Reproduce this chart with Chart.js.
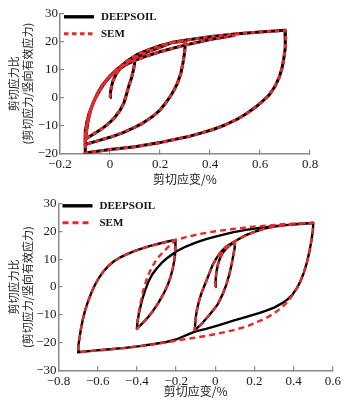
<!DOCTYPE html>
<html lang="zh">
<head>
<meta charset="UTF-8">
<title>剪切应力比-剪切应变滞回曲线</title>
<script src="https://cdn.jsdelivr.net/npm/chart.js@4"></script>
<style>
  body { margin: 0; background: #fff; }
  .wrap { position: relative; width: 348px; height: 405px; }
  .box { position: absolute; left: 0; width: 348px; }
  #top-box { top: 0; height: 190px; }
  #bottom-box { top: 190px; height: 215px; }
</style>
</head>
<body>
<div class="wrap">
  <div class="box" id="top-box"><canvas id="top-chart" width="348" height="190"></canvas></div>
  <div class="box" id="bottom-box"><canvas id="bottom-chart" width="348" height="215"></canvas></div>
</div>
<script>
// ---- 上图：DEEPSOIL 与 SEM 基本重合 (应变 %, 应力比) ----
const topLoad0 = [[0,0],[0.002,2],[0.006,4],[0.012,6],[0.022,8],[0.035,9.8],[0.05,11.3],[0.07,12.6],[0.1,14]];
const topUnload1 = [[0.1,14],[0.098,12],[0.094,10],[0.086,7],[0.076,4.4],[0.066,1.2],[0.056,-1.8],[0.04,-4.6],[0.02,-7],[0,-8.8],[-0.02,-10.3],[-0.04,-11.6],[-0.06,-12.7],[-0.08,-13.8],[-0.1,-15]];
const topReload1 = [[-0.1,-15],[-0.098,-12],[-0.092,-8.5],[-0.083,-5.5],[-0.07,-2.5],[-0.057,0],[-0.04,2.7],[-0.02,5.5],[0,7.8],[0.03,10.3],[0.07,13.2],[0.11,15.5],[0.15,17],[0.2,18.6],[0.25,19.7],[0.3,20.3]];
const topUnload2 = [[0.3,20.3],[0.301,18.5],[0.298,16],[0.292,12.5],[0.283,8.5],[0.27,5.2],[0.255,2.5],[0.24,0.3],[0.22,-2.2],[0.2,-4.5],[0.17,-6.8],[0.13,-9.2],[0.09,-11],[0.05,-12.6],[0,-14.2],[-0.05,-15.5],[-0.1,-16.8]];
const topReload2 = [[-0.1,-16.8],[-0.098,-13.5],[-0.093,-10],[-0.085,-6.8],[-0.074,-3.5],[-0.06,-0.5],[-0.043,2.4],[-0.022,5.2],[0,7.5],[0.03,10],[0.07,12.8],[0.11,14.8],[0.15,16.4],[0.2,18],[0.25,19.8],[0.3,20.5],[0.4,21.8],[0.5,22.8],[0.6,23.5],[0.7,24.1]];
const topUnload3 = [[0.7,24.1],[0.703,21.5],[0.701,18],[0.696,14.4],[0.688,10.5],[0.677,7.3],[0.66,4],[0.637,1],[0.61,-1.3],[0.584,-3.3],[0.545,-5.8],[0.505,-7.9],[0.46,-9.8],[0.412,-11.4],[0.36,-12.8],[0.32,-13.8],[0.24,-15.3],[0.2,-16.1],[0.1,-17.6],[0,-18.6],[-0.05,-19.2],[-0.1,-19.8]];
const topReload3 = [[-0.1,-19.8],[-0.098,-16],[-0.094,-12],[-0.088,-8.5],[-0.079,-5],[-0.067,-1.8],[-0.052,1.2],[-0.033,4.2],[-0.01,6.8],[0.02,9.2],[0.06,11.6],[0.1,13.3],[0.15,15],[0.2,16.4],[0.24,17.4],[0.3,18.8],[0.4,20.8],[0.5,22.3]];

// ---- 下图 ----
const botLoad0 = [[0,0],[0.002,3],[0.006,5.5],[0.013,8],[0.022,10],[0.035,12],[0.055,13.8],[0.075,15.1],[0.1,16.3]];
const botUnload1 = [[0.1,16.3],[0.098,14],[0.092,11.5],[0.083,8],[0.071,4.4],[0.056,0.8],[0.037,-2.7],[0.012,-6.3],[-0.014,-8.6],[-0.04,-10.9],[-0.064,-12.8],[-0.085,-14.3],[-0.105,-15.6]];
const botReload1 = [[-0.105,-15.6],[-0.1,-11],[-0.093,-8],[-0.083,-5],[-0.067,-1.5],[-0.047,2],[-0.03,5],[-0.014,7.9],[0.007,10.5],[0.029,12.7],[0.06,14.8],[0.1,16.5],[0.156,18.7],[0.2,19.9],[0.257,21.2],[0.3,21.8],[0.36,22.3],[0.43,22.8],[0.5,23.1]];
const botUnloadDeep = [[0.5,23.1],[0.498,20.5],[0.491,17],[0.481,13],[0.468,9],[0.452,5.2],[0.435,2.2],[0.418,-0.2],[0.395,-2.6],[0.368,-4.5],[0.342,-5.8],[0.3,-7.4],[0.26,-8.5],[0.223,-9.4],[0.15,-10.9],[0.088,-12.2],[0.02,-13.7],[-0.047,-15.1],[-0.1,-16],[-0.132,-16.9],[-0.17,-18],[-0.2,-18.9],[-0.25,-19.8],[-0.32,-20.6],[-0.386,-21.3],[-0.46,-21.9],[-0.538,-22.4],[-0.62,-22.9],[-0.7,-23.5]];
const botUnloadSem = [[0.5,23.1],[0.498,20.5],[0.491,17],[0.481,13],[0.468,9],[0.452,5.2],[0.435,2.2],[0.418,-0.2],[0.395,-2.8],[0.37,-5.2],[0.342,-7.2],[0.3,-9.5],[0.256,-11.3],[0.2,-13],[0.156,-14.3],[0.088,-15.6],[0,-17],[-0.081,-18],[-0.183,-19.1],[-0.25,-19.9],[-0.33,-20.8],[-0.42,-21.6],[-0.5,-22.2],[-0.59,-22.8],[-0.7,-23.5]];
const botReload2 = [[-0.7,-23.5],[-0.697,-21],[-0.693,-18.5],[-0.686,-15.3],[-0.677,-12],[-0.665,-8.6],[-0.65,-5.3],[-0.633,-2.2],[-0.614,0.8],[-0.594,3.3],[-0.572,5.5],[-0.548,7.4],[-0.521,9.1],[-0.49,10.5],[-0.453,11.8],[-0.41,13],[-0.369,14],[-0.327,14.9],[-0.284,15.7],[-0.243,16.4],[-0.203,17]];
const botUnload2 = [[-0.203,17],[-0.203,15],[-0.205,12.7],[-0.209,9.6],[-0.217,6.7],[-0.228,3.7],[-0.242,0.9],[-0.258,-1.6],[-0.276,-3.9],[-0.296,-6.3],[-0.318,-8.6],[-0.342,-10.8],[-0.369,-12.8],[-0.4,-15.1]];
const botReloadDeep = [[-0.4,-15.1],[-0.397,-12.5],[-0.39,-9.6],[-0.381,-6.8],[-0.371,-4],[-0.357,-1],[-0.342,1.8],[-0.322,4.5],[-0.3,6.6],[-0.275,8.6],[-0.25,10.2],[-0.2,12.8],[-0.15,14.6],[-0.1,16],[-0.047,17.3],[0,18.2],[0.088,19.7],[0.156,20.6],[0.223,21.3],[0.3,21.9],[0.36,22.3],[0.43,22.7],[0.5,23.1]];
const botReloadSem = [[-0.4,-15.1],[-0.396,-12],[-0.389,-8.6],[-0.379,-5],[-0.369,-1.5],[-0.356,1.5],[-0.342,4.4],[-0.325,6.9],[-0.308,9],[-0.287,11],[-0.266,12.6],[-0.24,14.5],[-0.203,16.9],[-0.15,18],[-0.081,19.1],[0,20.1],[0.088,20.9],[0.17,21.6],[0.257,22.1],[0.36,22.7],[0.5,23.2]];

const seriesNames = ['DEEPSOIL', 'SEM'];
const xTitle = '剪切应变/%';
const yTitle = ['剪切应力比', '(剪切应力/竖向有效应力)'];

const RED = '#e8282b';
const AXIS = '#8a8a8a';
Chart.defaults.font.family = '"Liberation Serif", serif';
Chart.defaults.color = '#1a1a1a';

function toPoints() {
	const pts = [];
	for (const branch of arguments) {
		branch.forEach(p => pts.push({ x: p[0], y: p[1] }));
	}
	return pts;
}

function fmtTick(v) {
	return String(Math.round(v * 10) / 10).replace('-', '\u2212');
}

// 图例画在坐标区左上角内侧
const lineLegend = {
	id: 'lineLegend',
	afterDraw(chart) {
		const { ctx, chartArea } = chart;
		const opts = chart.options.plugins.lineLegend;
		chart.data.datasets.forEach((ds, i) => {
			const y = chartArea.top + opts.top + i * opts.gap;
			const x0 = chartArea.left + opts.left;
			ctx.save();
			ctx.strokeStyle = ds.borderColor;
			ctx.lineWidth = ds.legendWidth;
			ctx.setLineDash(ds.borderDash || []);
			ctx.beginPath();
			ctx.moveTo(x0, y);
			ctx.lineTo(x0 + opts.len, y);
			ctx.stroke();
			ctx.setLineDash([]);
			ctx.fillStyle = '#111';
			ctx.font = 'bold 11px "Liberation Serif", serif';
			ctx.textBaseline = 'middle';
			ctx.fillText(ds.label, x0 + opts.len + 7, y + 0.5);
			ctx.restore();
		});
	}
};

function makeScales(xr, yr, yWidth, xHeight, xTitlePad) {
	const grid = { drawOnChartArea: false, tickLength: -4, color: AXIS, lineWidth: 1.2 };
	const border = { color: AXIS, width: 1.5 };
	return {
		x: {
			type: 'linear', min: xr[0], max: xr[1],
			afterFit: s => { s.height = xHeight; },
			ticks: { stepSize: 0.2, callback: fmtTick, autoSkip: false, maxRotation: 0, padding: 7, font: { size: 13 } },
			grid: grid, border: border,
			title: { display: true, text: xTitle, font: { family: '"Noto Sans CJK SC"', size: 12 }, padding: { top: 0, bottom: xTitlePad } }
		},
		y: {
			type: 'linear', min: yr[0], max: yr[1],
			afterFit: s => { s.width = yWidth; },
			ticks: { stepSize: 10, callback: fmtTick, padding: 6, font: { size: 13 } },
			grid: grid, border: border,
			title: { display: true, text: yTitle, font: { family: '"Noto Sans CJK SC"', size: 11, lineHeight: 1.35 }, padding: { top: 6, bottom: 0 } }
		}
	};
}

function makeChart(id, deep, sem, opt) {
	const line = { showLine: true, borderWidth: opt.lw, borderJoinStyle: 'round', pointRadius: 0 };
	return new Chart(document.getElementById(id), {
		type: 'scatter',
		data: {
			datasets: [
				Object.assign({ label: seriesNames[0], data: deep, borderColor: '#000', order: 1, legendWidth: 3.4 }, line),
				Object.assign({ label: seriesNames[1], data: sem, borderColor: RED, borderDash: opt.dash, order: 0, legendWidth: 3 }, line)
			]
		},
		options: {
			responsive: false,
			animation: false,
			layout: { padding: opt.padding },
			plugins: {
				legend: { display: false },
				tooltip: { enabled: false },
				lineLegend: { top: opt.legendTop, gap: 17, left: 4, len: 30 }
			},
			scales: makeScales(opt.xr, opt.yr, opt.yWidth, opt.xHeight, opt.xTitlePad)
		},
		plugins: [lineLegend]
	});
}

const topPath = toPoints(topLoad0, topUnload1, topReload1, topUnload2, topReload2, topUnload3, topReload3);
makeChart('top-chart', topPath, topPath, {
	xr: [-0.2, 0.8], yr: [-20, 30], lw: 3, dash: [4.5, 3.5],
	padding: { top: 12, right: 38, left: 0, bottom: 0 },
	yWidth: 60, xHeight: 36.5, xTitlePad: 3, legendTop: 3
});

makeChart('bottom-chart',
	toPoints(botLoad0, botUnload1, botReload1, botUnloadDeep, botReload2, botUnload2, botReloadDeep),
	toPoints(botLoad0, botUnload1, botReload1, botUnloadSem, botReload2, botUnload2, botReloadSem), {
	xr: [-0.8, 0.6], yr: [-30, 30], lw: 2.4, dash: [6, 4],
	padding: { top: 11, right: 14, left: 0, bottom: 0 },
	yWidth: 58.5, xHeight: 34.7, xTitlePad: 6, legendTop: 2
});
</script>
</body>
</html>
